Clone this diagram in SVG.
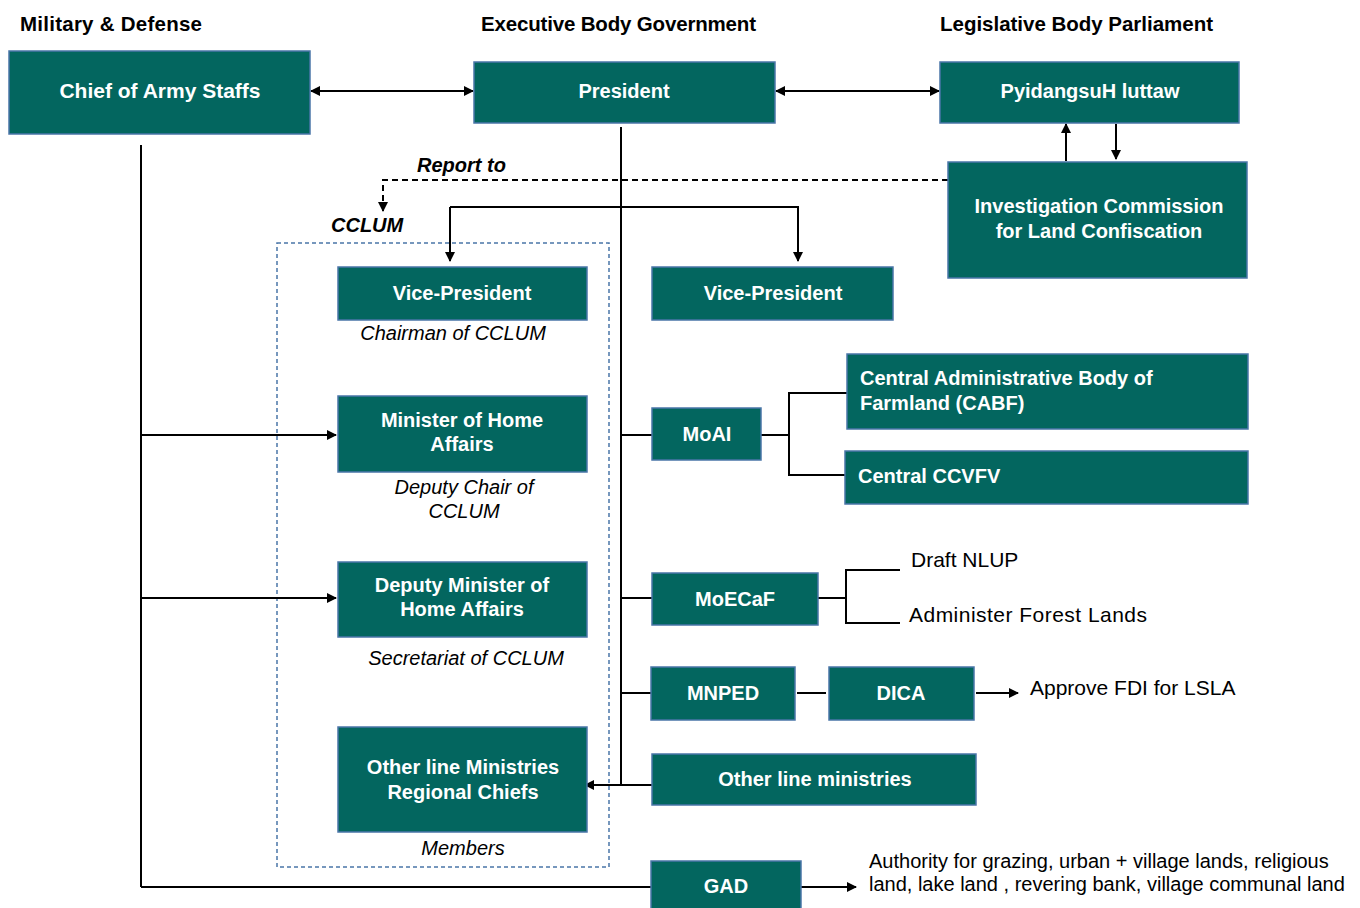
<svg xmlns="http://www.w3.org/2000/svg" width="1360" height="908" viewBox="0 0 1360 908">
<defs>
<marker id="ah" markerWidth="10" markerHeight="10" refX="9" refY="5" orient="auto-start-reverse" markerUnits="userSpaceOnUse">
<path d="M0,0 L10,5 L0,10 Z" fill="#000"/>
</marker>
<style>
.box{fill:#03665f;stroke:#4a76a8;stroke-width:1.5}
.bt{font-family:"Liberation Sans",Arial,sans-serif;font-weight:bold;font-size:20px;fill:#fff;text-anchor:middle}
.btl{font-family:"Liberation Sans",Arial,sans-serif;font-weight:bold;font-size:20px;fill:#fff}
.hd{font-family:"Liberation Sans",Arial,sans-serif;font-weight:bold;font-size:20.5px;fill:#000}
.it{font-family:"Liberation Sans",Arial,sans-serif;font-style:italic;font-size:20px;fill:#000;text-anchor:middle}
.bi{font-family:"Liberation Sans",Arial,sans-serif;font-style:italic;font-weight:bold;font-size:20px;fill:#000}
.tx{font-family:"Liberation Sans",Arial,sans-serif;font-size:20px;fill:#000}
.tx2{font-family:"Liberation Sans",Arial,sans-serif;font-size:21px;fill:#000}
.ln{stroke:#000;stroke-width:2;fill:none}
.ar{stroke:#000;stroke-width:2;fill:none;marker-end:url(#ah)}
.ar2{stroke:#000;stroke-width:2;fill:none;marker-end:url(#ah);marker-start:url(#ah)}
</style>
</defs>
<rect width="1360" height="908" fill="#fff"/>

<g id="headers">
<text class="hd" x="20" y="31" textLength="182">Military &amp; Defense</text>
<text class="hd" x="481" y="31" textLength="275">Executive Body Government</text>
<text class="hd" x="940" y="31" textLength="273">Legislative Body Parliament</text>
</g>

<g id="cclum-group">
<rect x="277" y="243" width="332" height="624" fill="none" stroke="#4a76a8" stroke-width="1.5" stroke-dasharray="4,3"/>
<text class="bi" x="331" y="232">CCLUM</text>
</g>

<g id="connectors">
<line class="ar2" x1="311" y1="91" x2="473" y2="91"/>
<line class="ar2" x1="776" y1="91" x2="939" y2="91"/>
<line class="ar" x1="1066" y1="161" x2="1066" y2="124"/>
<line class="ar" x1="1116" y1="124" x2="1116" y2="159"/>
<polyline class="ar" points="948,180 383,180 383,211" stroke-dasharray="6,4"/>
<line class="ln" x1="621" y1="127" x2="621" y2="785"/>
<polyline class="ar" points="450,207 798,207 798,261"/>
<line class="ar" x1="450" y1="207" x2="450" y2="261"/>
<line class="ln" x1="141" y1="145" x2="141" y2="887"/>
<line class="ar" x1="141" y1="435" x2="336" y2="435"/>
<line class="ar" x1="141" y1="598" x2="336" y2="598"/>
<line class="ln" x1="141" y1="887" x2="651" y2="887"/>
<line class="ln" x1="621" y1="435" x2="652" y2="435"/>
<line class="ln" x1="761" y1="435" x2="789" y2="435"/>
<polyline class="ln" points="847,393 789,393 789,475 845,475"/>
<line class="ln" x1="621" y1="598" x2="652" y2="598"/>
<line class="ln" x1="818" y1="598" x2="846" y2="598"/>
<polyline class="ln" points="900,570 846,570 846,623 900,623"/>
<line class="ln" x1="621" y1="693" x2="651" y2="693"/>
<line class="ln" x1="797" y1="693" x2="826" y2="693"/>
<line class="ar" x1="976" y1="693" x2="1018" y2="693"/>
<line class="ar" x1="652" y1="785" x2="585" y2="785"/>
<line class="ar" x1="801" y1="887" x2="856" y2="887"/>
<text class="bi" x="417" y="172">Report to</text>
</g>

<g id="chief"><rect class="box" x="9" y="51" width="301" height="83"/><text class="bt" x="160" y="98" style="font-size:21px">Chief of Army Staffs</text></g>
<g id="president"><rect class="box" x="474" y="62" width="301" height="61"/><text class="bt" x="624" y="98">President</text></g>
<g id="pyidangsu"><rect class="box" x="940" y="62" width="299" height="61"/><text class="bt" x="1090" y="98">PyidangsuH luttaw</text></g>
<g id="investigation"><rect class="box" x="948" y="162" width="299" height="116"/><text class="bt" x="1099" y="213">Investigation Commission</text><text class="bt" x="1099" y="238">for Land Confiscation</text></g>

<g id="vp-left"><rect class="box" x="338" y="267" width="249" height="53"/><text class="bt" x="462" y="300">Vice-President</text><text class="it" x="453" y="340">Chairman of CCLUM</text></g>
<g id="vp-right"><rect class="box" x="652" y="267" width="241" height="53"/><text class="bt" x="773" y="300">Vice-President</text></g>

<g id="home-minister"><rect class="box" x="338" y="396" width="249" height="76"/><text class="bt" x="462" y="427">Minister of Home</text><text class="bt" x="462" y="451">Affairs</text><text class="it" x="464" y="494">Deputy Chair of</text><text class="it" x="464" y="518">CCLUM</text></g>
<g id="deputy-minister"><rect class="box" x="338" y="562" width="249" height="75"/><text class="bt" x="462" y="592">Deputy Minister of</text><text class="bt" x="462" y="616">Home Affairs</text><text class="it" x="466" y="665">Secretariat of CCLUM</text></g>
<g id="members"><rect class="box" x="338" y="727" width="249" height="105"/><text class="bt" x="463" y="774">Other line Ministries</text><text class="bt" x="463" y="799">Regional Chiefs</text><text class="it" x="463" y="855">Members</text></g>

<g id="moai"><rect class="box" x="652" y="408" width="109" height="52"/><text class="bt" x="707" y="441">MoAI</text></g>
<g id="cabf"><rect class="box" x="847" y="354" width="401" height="75"/><text class="btl" x="860" y="385">Central Administrative Body of</text><text class="btl" x="860" y="410">Farmland (CABF)</text></g>
<g id="ccvfv"><rect class="box" x="845" y="451" width="403" height="53"/><text class="btl" x="858" y="483">Central CCVFV</text></g>

<g id="moecaf"><rect class="box" x="652" y="573" width="166" height="52"/><text class="bt" x="735" y="606">MoECaF</text></g>
<g id="moecaf-tasks"><text class="tx2" x="911" y="567">Draft NLUP</text><text class="tx2" x="909" y="622" textLength="238">Administer Forest Lands</text></g>

<g id="mnped"><rect class="box" x="651" y="667" width="144" height="53"/><text class="bt" x="723" y="700">MNPED</text></g>
<g id="dica"><rect class="box" x="829" y="667" width="145" height="53"/><text class="bt" x="901" y="700">DICA</text></g>
<g id="fdi"><text class="tx2" x="1030" y="695">Approve FDI for LSLA</text></g>

<g id="other-ministries"><rect class="box" x="652" y="754" width="324" height="51"/><text class="bt" x="815" y="786">Other line ministries</text></g>

<g id="gad"><rect class="box" x="651" y="861" width="150" height="52"/><text class="bt" x="726" y="893">GAD</text></g>
<g id="gad-authority"><text class="tx" x="869" y="868">Authority for grazing, urban + village lands, religious</text><text class="tx" x="869" y="891">land, lake land , revering bank, village communal land</text></g>
</svg>
